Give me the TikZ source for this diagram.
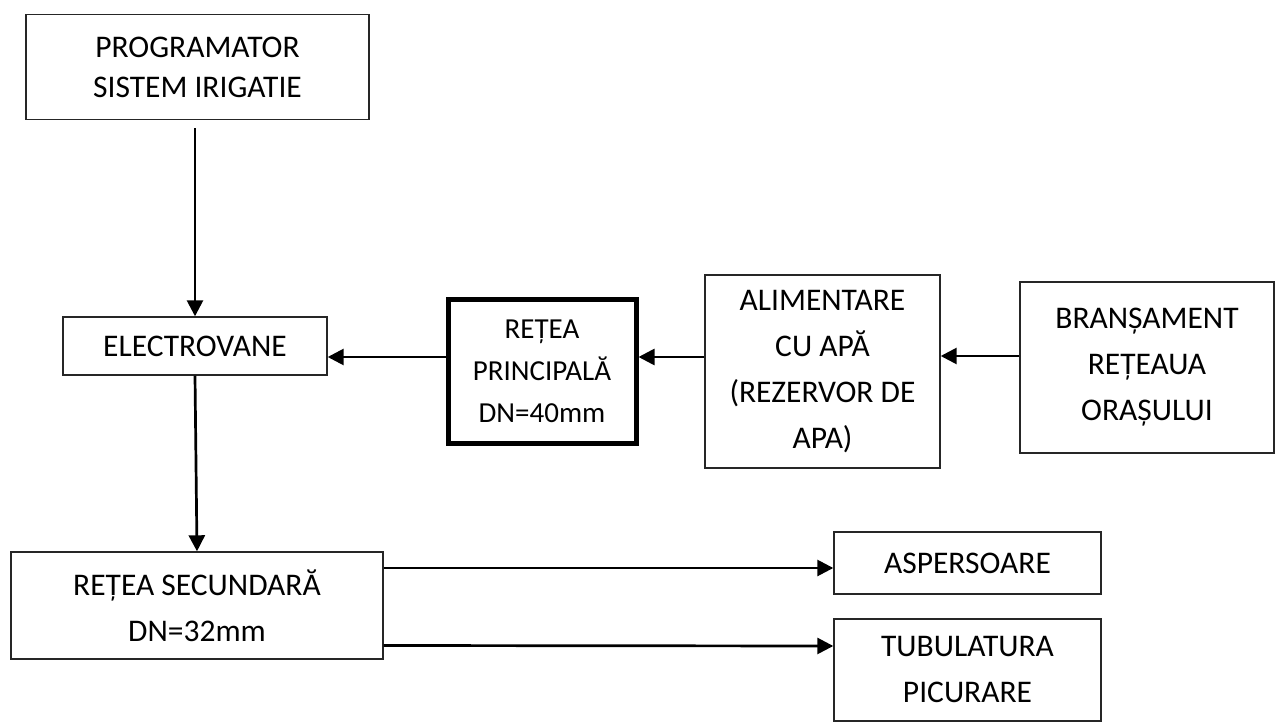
\documentclass[tikz,border=0pt]{standalone}
\usepackage{fontspec}
\setmainfont{Carlito}
\usetikzlibrary{arrows.meta,calc}
\tikzset{
  box/.style={draw=black!85, line width=1.4pt, rectangle, inner sep=0pt, align=center,
    font=\fontsize{31.5}{46}\selectfont},
  thickbox/.style={box, draw=black, line width=5pt, font=\fontsize{29}{42}\selectfont},
  arr/.style={line width=2.7pt, -{Triangle[length=16pt,width=16pt]}}
}
\begin{document}
\begin{tikzpicture}[x=1pt,y=-1pt]
\useasboundingbox[fill=white] (0,0) rectangle (1278,722);
\node[box, minimum width=343pt, minimum height=105pt, font=\fontsize{31.5}{40}\selectfont] (prog) at (197.5,67) {PROGRAMATOR\\SISTEM IRIGATIE};
\node[box, minimum width=264pt, minimum height=58pt] (elec) at (195,346) {ELECTROVANE};
\node[thickbox, minimum width=188pt, minimum height=143pt] (pr) at (542,371.5) {REȚEA\\PRINCIPALĂ\\DN=40mm};
\node[box, minimum width=235pt, minimum height=193pt] (alim) at (822.5,371.5) {ALIMENTARE\\CU APĂ\\(REZERVOR DE\\APA)};
\node[box, minimum width=254pt, minimum height=171pt] (bran) at (1147,367.5) {BRANȘAMENT\\REȚEAUA\\ORAȘULUI};
\node[box, minimum width=372pt, minimum height=107pt] (sec) at (197,605.5) {REȚEA SECUNDARĂ\\DN=32mm};
\node[box, minimum width=267pt, minimum height=62pt] (asp) at (967.5,563) {ASPERSOARE};
\node[box, minimum width=267pt, minimum height=102pt] (tub) at (967.5,670) {TUBULATURA\\PICURARE};

\draw[arr] ($(elec.north |- prog.south)+(0,8)$) -- (elec.north);
\draw[arr] ($(pr.west)+(0,-14.5)$) -- ($(elec.east)+(0,11)$);
\draw[arr] ($(alim.west)+(0,-14.5)$) -- ($(pr.east)+(0,-14.5)$);
\draw[arr] ($(bran.west)+(0,-11.5)$) -- ($(alim.east)+(0,-15.5)$);
\draw[arr] (elec.south) -- (sec.north);
\draw[arr] ($(sec.east)+(0,-37.5)$) -- ($(asp.west)+(0,5)$);
\draw[arr] ($(sec.east)+(0,40)$) -- ($(tub.west)+(0,-24)$);
\end{tikzpicture}
\end{document}
